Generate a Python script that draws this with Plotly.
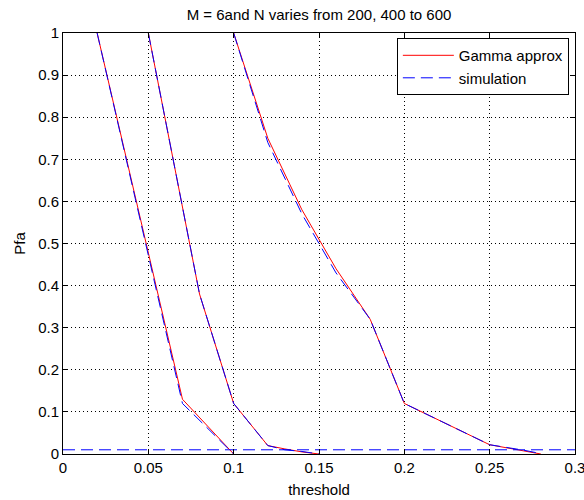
import plotly.graph_objects as go

# ---- data ----
title_text = "M = 6and N varies from 200, 400 to 600"

thr1 = [0.02, 0.07, 0.10]
gamma1 = [1.0, 0.13, 0.0]
sim1 = [1.0, 0.12, 0.0]

thr2 = [0.05, 0.08, 0.10, 0.12, 0.13, 0.14, 0.15]
gamma2 = [1.0, 0.38, 0.12, 0.02, 0.012, 0.005, 0.0]
sim2 = [1.0, 0.38, 0.12, 0.02, 0.010, 0.006, 0.0]

thr3 = [0.10, 0.12, 0.14, 0.16, 0.18, 0.20, 0.25, 0.26, 0.27, 0.28]
gamma3 = [1.0, 0.75, 0.58, 0.44, 0.32, 0.12, 0.022, 0.015, 0.008, 0.0]
sim3 = [1.0, 0.74, 0.57, 0.43, 0.32, 0.12, 0.022, 0.016, 0.009, 0.001]

thr_ref = [0.0, 0.3]
pfa_ref = [0.01, 0.01]

x_ticks = [0, 0.05, 0.1, 0.15, 0.2, 0.25, 0.3]
x_tick_labels = ["0", "0.05", "0.1", "0.15", "0.2", "0.25", "0.3"]
y_ticks = [0, 0.1, 0.2, 0.3, 0.4, 0.5, 0.6, 0.7, 0.8, 0.9, 1.0]
y_tick_labels = ["0", "0.1", "0.2", "0.3", "0.4", "0.5", "0.6", "0.7", "0.8", "0.9", "1"]

FONT = "Liberation Sans, Arial, Helvetica, sans-serif"
FS = 15
RED = "#ff0000"
BLUE = "#0000ff"
DASH = "12px,6px"

fig = go.Figure()

gamma_sets = [(thr1, gamma1), (thr2, gamma2), (thr3, gamma3)]
sim_sets = [(thr1, sim1), (thr2, sim2), (thr3, sim3)]

for i, (xs, ys) in enumerate(gamma_sets):
    fig.add_trace(go.Scatter(x=xs, y=ys, mode="lines", name="Gamma approx",
                             showlegend=(i == 0),
                             line=dict(color=RED, width=1)))
for i, (xs, ys) in enumerate(sim_sets):
    fig.add_trace(go.Scatter(x=xs, y=ys, mode="lines", name="simulation",
                             showlegend=(i == 0),
                             line=dict(color=BLUE, width=1, dash=DASH)))
fig.add_trace(go.Scatter(x=thr_ref, y=pfa_ref, mode="lines", name="simulation",
                         showlegend=False,
                         line=dict(color=BLUE, width=1, dash=DASH)))

axis_common = dict(
    showline=True, linecolor="#000000", linewidth=1, mirror="ticks",
    ticks="inside", ticklen=5, tickcolor="#000000", tickwidth=1,
    showgrid=True, gridcolor="#000000", gridwidth=1, griddash="1px,3px",
    zeroline=False, ticklabeloverflow="allow", automargin=False,
    tickfont=dict(family=FONT, size=FS, color="#000000"),
)

fig.update_layout(
    width=584, height=500,
    margin=dict(l=63, r=9, t=33, b=46),
    paper_bgcolor="#ffffff", plot_bgcolor="#ffffff",
    font=dict(family=FONT, size=FS, color="#000000"),
    title=dict(text=title_text, x=0.5, xref="paper", xanchor="center",
               y=1 - 15 / 500, yref="container", yanchor="middle",
               font=dict(family=FONT, size=FS, color="#000000")),
    xaxis=dict(range=[0, 0.3], tickvals=x_ticks, ticktext=x_tick_labels,
               title=dict(text="threshold", standoff=9,
                          font=dict(family=FONT, size=FS)),
               **axis_common),
    yaxis=dict(range=[0, 1], tickvals=y_ticks, ticktext=y_tick_labels,
               title=dict(text="Pfa", standoff=8,
                          font=dict(family=FONT, size=FS)),
               **axis_common),
    legend=dict(x=0.988, xanchor="right", y=0.988, yanchor="top",
                bgcolor="#ffffff", bordercolor="#000000", borderwidth=1,
                font=dict(family=FONT, size=FS, color="#000000"),
                itemwidth=51, traceorder="normal"),
    showlegend=True,
)

fig.write_html("out.html")
